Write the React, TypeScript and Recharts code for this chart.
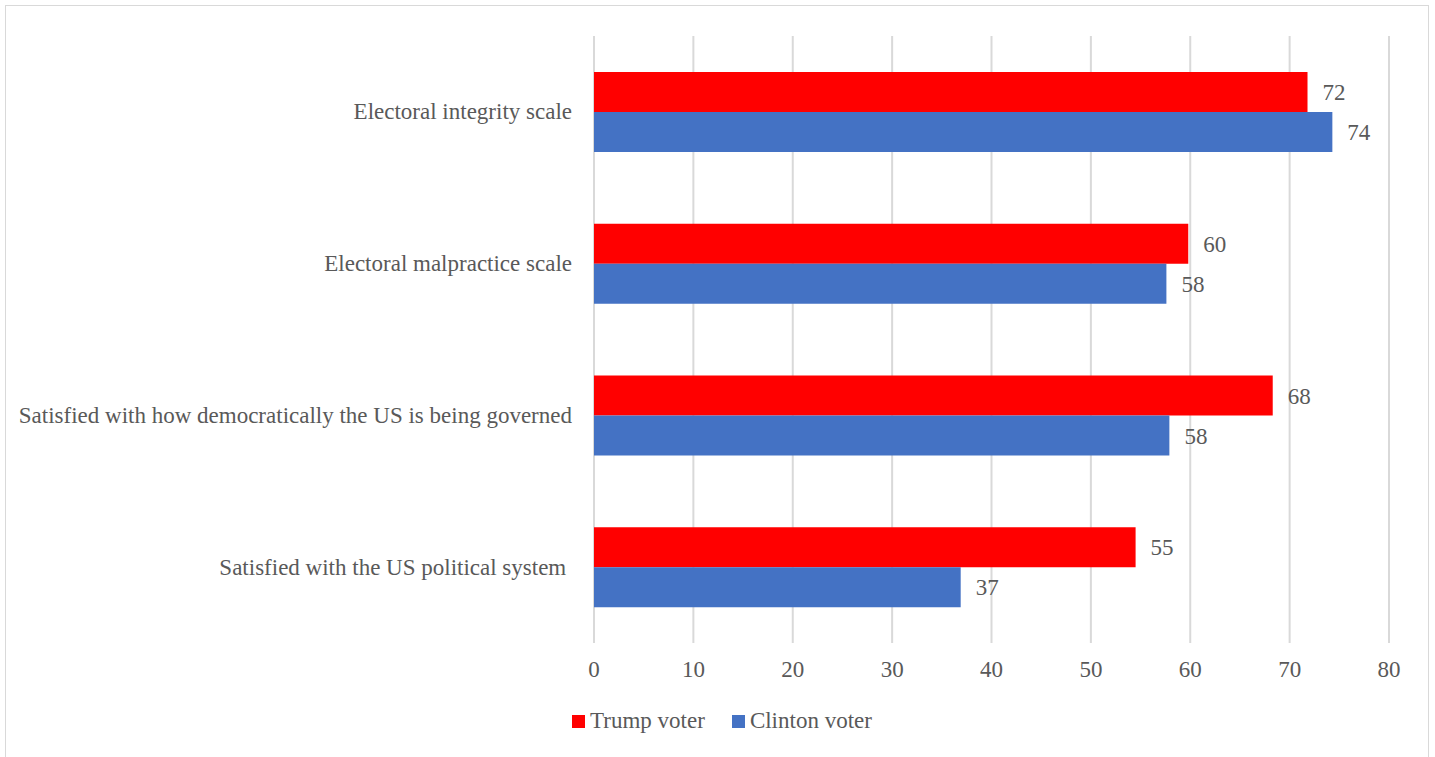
import React from "react";
import { BarChart, Bar, XAxis, YAxis, CartesianGrid, Legend, LabelList } from "recharts";

const categories = [
  "Electoral integrity scale",
  "Electoral malpractice scale",
  "Satisfied with how democratically the US is being governed",
  "Satisfied with the US political system ",
];
const trumpValues = [71.8, 59.8, 68.3, 54.5];
const clintonValues = [74.3, 57.6, 57.9, 36.9];
const xTicks = [0, 10, 20, 30, 40, 50, 60, 70, 80];
const seriesNames = ["Trump voter", "Clinton voter"];
const seriesColors = ["#FF0000", "#4472C4"];

const data = categories.map((c, i) => ({
  category: c,
  trump: trumpValues[i],
  clinton: clintonValues[i],
}));

const FONT = "'Liberation Serif', 'DejaVu Serif', serif";
const TEXT = "#595959";
const FS = 23;

const YTick = (props: any) => {
  const { x, y, payload } = props;
  return (
    <text
      x={x}
      y={y}
      textAnchor="end"
      dominantBaseline="central"
      fill={TEXT}
      fontSize={FS}
      fontFamily={FONT}
      style={{ whiteSpace: "pre" }}
    >
      {payload.value}
    </text>
  );
};

const LegendContent = () => (
  <div
    style={{
      display: "flex",
      justifyContent: "center",
      alignItems: "center",
      fontFamily: FONT,
      fontSize: FS,
      lineHeight: "26px",
      color: TEXT,
      paddingLeft: 9,
    }}
  >
    {seriesNames.map((n, i) => (
      <div key={n} style={{ display: "flex", alignItems: "center", marginRight: i === 0 ? 27 : 0 }}>
        <span
          style={{
            display: "inline-block",
            width: 13,
            height: 13,
            background: seriesColors[i],
            marginRight: 5,
          }}
        />
        <span>{n}</span>
      </div>
    ))}
  </div>
);

export default function App() {
  return (
    <div style={{ position: "absolute", left: 0, top: 0, width: 1435, height: 757, background: "#fff" }}>
      <div
        style={{
          position: "absolute",
          left: 5,
          top: 5,
          width: 1424,
          height: 760,
          border: "1.5px solid #d9d9d9",
          boxSizing: "border-box",
        }}
      />
      <div style={{ position: "absolute", left: 0, top: 0 }}>
        <BarChart
          width={1435}
          height={757}
          data={data}
          layout="vertical"
          margin={{ top: 36, right: 46, bottom: 64, left: 0 }}
          barGap={0}
          barSize={40}
        >
          <CartesianGrid horizontal={false} vertical stroke="#d9d9d9" strokeWidth={2} />
          <XAxis
            type="number"
            domain={[0, 80]}
            ticks={xTicks}
            axisLine={false}
            tickLine={false}
            tickSize={0}
            tickMargin={18}
            height={50}
            tick={{ fill: TEXT, fontSize: FS, fontFamily: FONT }}
          />
          <YAxis
            type="category"
            dataKey="category"
            width={594}
            axisLine={false}
            tickLine={false}
            tickSize={0}
            tickMargin={22}
            tick={<YTick />}
          />
          <Legend
            verticalAlign="middle"
            align="center"
            layout="horizontal"
            content={<LegendContent />}
            wrapperStyle={{ top: 708, left: 0, width: 1435 }}
          />
          <Bar dataKey="trump" name={seriesNames[0]} fill={seriesColors[0]} isAnimationActive={false}>
            <LabelList
              dataKey="trump"
              position="right"
              offset={15}
              formatter={(v: any) => Math.round(v)}
              fill={TEXT}
              fontSize={FS}
              fontFamily={FONT}
            />
          </Bar>
          <Bar dataKey="clinton" name={seriesNames[1]} fill={seriesColors[1]} isAnimationActive={false}>
            <LabelList
              dataKey="clinton"
              position="right"
              offset={15}
              formatter={(v: any) => Math.round(v)}
              fill={TEXT}
              fontSize={FS}
              fontFamily={FONT}
            />
          </Bar>
        </BarChart>
      </div>
    </div>
  );
}
